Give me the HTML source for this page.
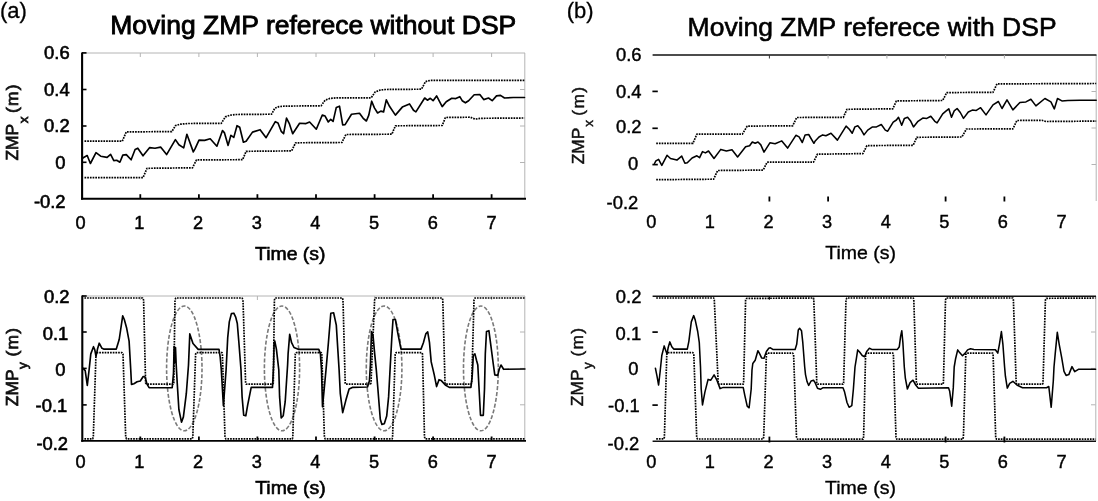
<!DOCTYPE html>
<html><head><meta charset="utf-8"><title>Moving ZMP reference</title>
<style>html,body{margin:0;padding:0;background:#fff}body{width:1098px;height:501px;overflow:hidden}</style>
</head><body>
<svg width="1098" height="501" viewBox="0 0 1098 501" style="display:block">
<defs><filter id="soft" x="0" y="0" width="100%" height="100%" filterUnits="userSpaceOnUse" color-interpolation-filters="sRGB"><feGaussianBlur stdDeviation="0.38"/></filter></defs>
<rect width="1098" height="501" fill="#fff"/>
<g filter="url(#soft)">
<g stroke="#b4b4b4" stroke-width="1" fill="none">
<line x1="82" y1="53" x2="525" y2="53"/><line x1="524.8" y1="53" x2="524.8" y2="199"/>
<line x1="140.3" y1="53" x2="140.3" y2="57"/>
<line x1="198.9" y1="53" x2="198.9" y2="57"/>
<line x1="257.4" y1="53" x2="257.4" y2="57"/>
<line x1="316.0" y1="53" x2="316.0" y2="57"/>
<line x1="374.6" y1="53" x2="374.6" y2="57"/>
<line x1="433.1" y1="53" x2="433.1" y2="57"/>
<line x1="491.6" y1="53" x2="491.6" y2="57"/>
<line x1="520" y1="89.5" x2="525" y2="89.5"/>
<line x1="520" y1="126" x2="525" y2="126"/>
<line x1="520" y1="162.5" x2="525" y2="162.5"/>
<line x1="82" y1="296" x2="525" y2="296"/><line x1="524.8" y1="296" x2="524.8" y2="441"/>
<line x1="140.3" y1="296" x2="140.3" y2="300"/>
<line x1="198.9" y1="296" x2="198.9" y2="300"/>
<line x1="257.4" y1="296" x2="257.4" y2="300"/>
<line x1="316.0" y1="296" x2="316.0" y2="300"/>
<line x1="374.6" y1="296" x2="374.6" y2="300"/>
<line x1="433.1" y1="296" x2="433.1" y2="300"/>
<line x1="491.6" y1="296" x2="491.6" y2="300"/>
<line x1="520" y1="332" x2="525" y2="332"/>
<line x1="520" y1="368.4" x2="525" y2="368.4"/>
<line x1="520" y1="404.8" x2="525" y2="404.8"/>
<line x1="1096.2" y1="55" x2="1096.2" y2="201"/>
<line x1="1091.5" y1="91.5" x2="1096" y2="91.5"/>
<line x1="1091.5" y1="128" x2="1096" y2="128"/>
<line x1="1091.5" y1="164.5" x2="1096" y2="164.5"/>
<line x1="1095.8" y1="296" x2="1095.8" y2="441"/>
<line x1="1091" y1="332" x2="1095.5" y2="332"/>
<line x1="1091" y1="368.4" x2="1095.5" y2="368.4"/>
<line x1="1091" y1="404.8" x2="1095.5" y2="404.8"/>
</g>
<g stroke="#000" fill="none">
<line x1="82.1" y1="52.5" x2="82.1" y2="199.6" stroke-width="2.1"/>
<line x1="81" y1="198.7" x2="526" y2="198.7" stroke-width="1.9"/>
<line x1="82.3" y1="295.5" x2="82.3" y2="441.8" stroke-width="2.1"/>
<line x1="81.2" y1="440.9" x2="526" y2="440.9" stroke-width="1.9"/>
<line x1="82" y1="52.9" x2="86.5" y2="52.9" stroke-width="1.6"/>
<line x1="82" y1="89.5" x2="86.5" y2="89.5" stroke-width="1.6"/>
<line x1="82" y1="126" x2="86.5" y2="126" stroke-width="1.6"/>
<line x1="82" y1="162.3" x2="86.5" y2="162.3" stroke-width="1.6"/>
<line x1="82" y1="296" x2="86.7" y2="296" stroke-width="1.6"/>
<line x1="82" y1="332" x2="86.7" y2="332" stroke-width="1.6"/>
<line x1="82" y1="368.4" x2="86.7" y2="368.4" stroke-width="1.6"/>
<line x1="82" y1="404.9" x2="86.7" y2="404.9" stroke-width="1.6"/>
<line x1="140.3" y1="194.2" x2="140.3" y2="199" stroke-width="1.8"/>
<line x1="140.3" y1="436.5" x2="140.3" y2="441" stroke-width="1.8"/>
<line x1="198.9" y1="194.2" x2="198.9" y2="199" stroke-width="1.8"/>
<line x1="198.9" y1="436.5" x2="198.9" y2="441" stroke-width="1.8"/>
<line x1="257.4" y1="194.2" x2="257.4" y2="199" stroke-width="1.8"/>
<line x1="257.4" y1="436.5" x2="257.4" y2="441" stroke-width="1.8"/>
<line x1="316.0" y1="194.2" x2="316.0" y2="199" stroke-width="1.8"/>
<line x1="316.0" y1="436.5" x2="316.0" y2="441" stroke-width="1.8"/>
<line x1="374.6" y1="194.2" x2="374.6" y2="199" stroke-width="1.8"/>
<line x1="374.6" y1="436.5" x2="374.6" y2="441" stroke-width="1.8"/>
<line x1="433.1" y1="194.2" x2="433.1" y2="199" stroke-width="1.8"/>
<line x1="433.1" y1="436.5" x2="433.1" y2="441" stroke-width="1.8"/>
<line x1="491.6" y1="194.2" x2="491.6" y2="199" stroke-width="1.8"/>
<line x1="491.6" y1="436.5" x2="491.6" y2="441" stroke-width="1.8"/>
</g>
<g stroke="#111" fill="none">
<line x1="652.6" y1="55.0" x2="1096.5" y2="55.0" stroke-width="1.4"/>
<line x1="652.6" y1="296.3" x2="1096" y2="296.3" stroke-width="1.4"/>
<line x1="652.6" y1="441.2" x2="1096" y2="441.2" stroke-width="1.6"/>
<line x1="652.4" y1="91.4" x2="657.8" y2="91.4" stroke-width="1.7" stroke="#000"/>
<line x1="652.4" y1="128.3" x2="657.8" y2="128.3" stroke-width="1.7" stroke="#000"/>
<line x1="652.4" y1="164.6" x2="657.8" y2="164.6" stroke-width="1.7" stroke="#000"/>
<line x1="652.4" y1="332.1" x2="657.8" y2="332.1" stroke-width="1.7" stroke="#000"/>
<line x1="652.4" y1="405.1" x2="657.8" y2="405.1" stroke-width="1.7" stroke="#000"/>
<line x1="769.4" y1="196.5" x2="769.4" y2="201.5" stroke-width="1.8" stroke="#000"/>
<line x1="828.1" y1="196.5" x2="828.1" y2="201.5" stroke-width="1.8" stroke="#000"/>
<line x1="945.6" y1="196.5" x2="945.6" y2="201.5" stroke-width="1.8" stroke="#000"/>
<line x1="1004.4" y1="196.5" x2="1004.4" y2="201.5" stroke-width="1.8" stroke="#000"/>
<line x1="769.4" y1="55" x2="769.4" y2="58.5" stroke-width="1" stroke="#333"/>
<line x1="828.1" y1="55" x2="828.1" y2="58.5" stroke-width="1" stroke="#aaa"/>
<line x1="886.9" y1="55" x2="886.9" y2="58.5" stroke-width="1" stroke="#aaa"/>
<line x1="945.6" y1="55" x2="945.6" y2="58.5" stroke-width="1" stroke="#aaa"/>
<line x1="1004.4" y1="55" x2="1004.4" y2="58.5" stroke-width="1" stroke="#aaa"/>
<line x1="769.4" y1="436.6" x2="769.4" y2="442.5" stroke-width="1.8" stroke="#000"/>
<line x1="945.6" y1="436.6" x2="945.6" y2="442.5" stroke-width="1.8" stroke="#000"/>
<line x1="1004.4" y1="436.6" x2="1004.4" y2="442.5" stroke-width="1.8" stroke="#000"/>
<line x1="769.4" y1="296" x2="769.4" y2="299.8" stroke-width="1.2"/>
</g>
<g fill="none" stroke="#7a7a7a" stroke-width="1.6" stroke-dasharray="4 1.9">
<ellipse cx="184.3" cy="368.4" rx="17.7" ry="62.4"/>
<ellipse cx="282.0" cy="368.4" rx="17.6" ry="62.4"/>
<ellipse cx="384.1" cy="368.4" rx="17.8" ry="62.4"/>
<ellipse cx="480.9" cy="368.4" rx="17.4" ry="62.4"/>
</g>
<polyline points="84.5,141.2 122.3,141.2 126.3,131.9 171.8,131.6 175.5,125.6 180.0,124.2 188.5,123.5 221.3,123.3 225.3,116.9 230.0,115.2 236.5,114.5 271.6,114.2 274.8,108.2 279.0,106.6 284.4,106.1 321.1,105.8 325.1,100.2 330.0,98.4 337.1,97.8 371.2,97.8 375.2,91.9 380.0,90.1 385.5,89.5 421.5,89.2 425.5,81.6 430.3,80.4 524.5,80.4" fill="none" stroke="#000" stroke-width="1.7" stroke-dasharray="1.7 1.0" stroke-linejoin="round"/>
<polyline points="84.5,177.7 143.0,177.7 147.0,168.3 192.5,167.8 196.5,159.9 242.6,159.7 246.1,151.3 291.6,150.9 295.6,142.8 341.9,142.5 345.9,134.5 391.9,134.2 395.4,125.8 442.2,125.5 445.4,117.5 470.2,117.2 475.0,119.1 481.3,118.3 524.5,118.0" fill="none" stroke="#000" stroke-width="1.7" stroke-dasharray="1.7 1.0" stroke-linejoin="round"/>
<polyline points="82.6,158.5 83.2,157.8 87.2,155.5 90.4,163.5 96.0,152.7 100.7,156.2 107.1,157.4 110.6,154.3 113.8,160.6 116.7,160.3 119.9,162.2 122.8,155.1 126.3,154.6 131.1,159.8 135.1,149.5 137.8,148.2 143.0,155.8 149.7,147.6 155.0,148.2 160.6,147.1 166.6,154.6 175.4,139.6 178.9,144.7 183.7,147.9 186.9,134.3 193.3,151.9 195.0,148.9 199.0,140.1 204.6,140.4 210.2,138.8 216.9,146.2 222.5,130.5 224.5,132.9 228.1,145.4 230.9,135.3 233.8,137.4 237.0,125.7 239.7,127.3 243.4,142.2 246.1,141.2 252.5,132.1 260.1,129.7 266.1,137.7 275.3,121.7 278.0,123.0 281.2,131.3 283.6,133.7 286.5,118.1 289.2,123.3 292.7,133.7 299.6,123.3 306.0,123.6 309.6,122.0 316.3,129.2 322.3,115.0 325.1,116.1 328.3,122.0 330.7,119.3 333.1,121.4 336.3,107.4 339.5,106.2 342.7,124.9 345.1,124.6 351.5,114.2 359.5,113.3 363.2,118.3 366.4,121.0 368.8,115.1 371.7,101.2 374.4,107.9 377.6,113.0 380.8,111.1 383.6,111.9 386.3,99.9 389.5,106.3 395.4,115.1 402.3,107.1 409.5,103.9 413.5,110.3 415.9,111.9 424.7,98.0 427.4,100.2 430.3,98.3 433.1,100.7 436.6,95.9 442.2,106.6 446.2,101.8 451.8,98.3 455.8,98.6 459.8,96.7 462.2,100.7 465.4,102.8 468.6,100.7 474.2,94.8 479.8,94.6 483.7,99.6 488.5,98.0 492.2,100.7 496.5,95.9 500.5,95.4 504.5,98.0 513.3,97.5 524.5,97.5" fill="none" stroke="#000" stroke-width="1.65" stroke-linejoin="round" stroke-linecap="round" />
<polyline points="656.2,143.3 692.9,143.3 696.9,134.1 742.4,134.1 747.2,126.1 792.7,125.8 796.7,117.5 843.4,117.3 846.9,109.3 892.8,108.8 896.4,100.9 942.7,100.5 946.7,92.6 993.0,92.3 997.0,83.9 1096.2,83.5" fill="none" stroke="#000" stroke-width="1.7" stroke-dasharray="1.7 1.0" stroke-linejoin="round"/>
<polyline points="656.2,179.7 713.7,179.2 717.6,170.5 763.2,170.1 767.1,162.2 813.5,162.2 817.4,154.2 862.9,153.6 866.9,145.6 913.2,145.3 916.7,137.3 961.9,137.0 966.4,129.0 1012.9,128.9 1016.9,120.5 1041.9,120.3 1045.9,121.5 1096.2,121.1" fill="none" stroke="#000" stroke-width="1.7" stroke-dasharray="1.7 1.0" stroke-linejoin="round"/>
<polyline points="654.5,163.5 655.9,160.9 658.6,159.3 661.8,165.4 667.0,155.3 670.5,158.5 676.9,160.1 681.7,156.1 684.9,163.3 687.3,162.8 692.1,158.0 696.9,155.8 699.6,157.7 702.5,151.6 705.4,152.9 708.5,151.0 714.0,158.5 720.8,149.4 726.4,151.0 732.0,149.7 737.6,156.9 745.6,146.8 749.6,145.7 752.3,142.0 755.2,143.3 758.0,142.0 760.8,144.9 764.0,152.1 769.9,142.8 775.1,143.8 781.8,140.9 787.6,148.1 795.9,135.3 799.1,136.9 802.3,142.5 805.1,134.9 808.7,134.5 813.9,143.3 815.0,141.3 819.0,137.0 822.7,134.9 825.9,135.7 831.0,133.3 837.4,140.1 846.1,126.1 849.3,129.3 852.2,133.3 854.9,126.9 857.8,125.8 861.3,130.1 864.0,134.9 867.7,130.1 872.5,126.9 876.5,126.9 881.3,124.5 885.3,130.1 887.7,131.2 893.2,122.1 896.4,120.0 898.5,117.3 901.7,125.3 904.4,118.4 907.6,117.3 910.8,121.3 913.5,126.9 918.0,121.3 922.8,118.1 926.8,118.4 930.8,116.2 934.8,121.3 937.1,122.9 942.7,113.8 946.2,110.9 948.8,108.8 951.5,117.3 954.2,110.9 957.1,108.5 960.3,112.5 963.5,118.4 968.3,112.0 972.3,110.1 976.3,110.4 980.6,107.7 986.0,114.9 993.0,104.9 998.4,101.5 1002.0,108.5 1007.0,99.9 1012.9,109.9 1019.9,102.5 1025.9,101.9 1030.9,99.3 1035.9,105.9 1044.9,98.5 1050.9,101.9 1054.3,108.9 1057.5,98.5 1061.9,100.9 1067.9,100.5 1079.8,100.3 1096.2,100.3" fill="none" stroke="#000" stroke-width="1.55" stroke-linejoin="round" stroke-linecap="round" />
<polyline points="84.4,298.0 142.7,298.0 143.6,300.0 145.6,383.0 146.7,384.2 173.0,384.2 173.8,383.0 175.0,300.0 175.8,298.0 242.1,298.0 243.0,300.0 245.6,383.0 246.3,384.2 272.5,384.2 273.3,383.0 274.4,300.0 275.2,298.0 342.4,298.0 343.0,300.0 345.2,383.0 345.8,384.2 370.4,384.2 371.0,383.0 374.6,300.0 375.5,298.0 442.1,298.0 442.8,300.0 445.0,383.0 445.6,384.2 470.9,384.2 471.7,383.0 474.0,300.0 475.0,298.0 524.9,298.0" fill="none" stroke="#000" stroke-width="1.7" stroke-dasharray="1.7 1.0" stroke-linejoin="round"/>
<polyline points="84.4,438.8 92.7,438.8 93.3,437.0 96.0,354.0 97.0,352.6 121.9,352.6 123.0,354.0 125.7,437.0 126.5,438.8 192.2,438.8 192.8,437.0 195.6,354.0 196.6,352.6 222.0,352.6 222.4,354.0 225.0,437.0 225.8,438.8 292.4,438.8 292.8,437.0 295.3,354.0 296.2,352.6 321.2,352.6 321.8,354.0 324.4,437.0 325.2,438.8 392.2,438.8 392.6,437.0 395.2,354.0 396.2,352.6 421.8,352.6 422.5,354.0 424.5,437.0 425.2,438.8 524.9,438.8" fill="none" stroke="#000" stroke-width="1.7" stroke-dasharray="1.7 1.0" stroke-linejoin="round"/>
<polyline points="82.8,368.2 85.2,370.6 87.3,385.4 89.2,369.0 90.8,353.9 93.5,346.7 94.8,349.9 96.0,356.3 97.5,349.1 99.2,343.2 102.0,348.3 103.6,349.1 116.3,349.1 119.2,339.5 122.7,315.9 124.3,319.5 126.7,328.3 129.1,341.1 130.7,369.0 131.5,384.5 133.9,383.8 137.1,381.8 140.3,381.0 143.2,376.5 145.1,377.0 147.0,384.2 149.1,387.7 172.2,387.7 173.5,373.0 174.1,346.5 174.9,362.5 175.5,347.6 176.2,365.0 177.3,384.2 178.9,409.7 181.5,422.2 183.4,416.9 186.3,393.7 188.5,365.0 189.8,333.9 193.0,343.5 198.2,349.4 219.0,349.4 220.2,357.1 221.3,369.8 223.4,405.7 226.1,369.8 227.7,337.9 229.3,321.9 231.4,313.6 233.8,313.2 235.7,317.1 237.3,323.5 238.9,342.7 241.0,369.8 242.1,396.9 243.7,415.3 245.8,415.8 247.7,404.9 251.2,387.4 272.5,387.4 273.6,365.0 274.1,342.7 274.8,341.1 276.4,349.1 278.8,369.8 279.6,396.9 281.2,418.0 283.2,415.8 285.2,401.7 287.6,365.0 288.1,353.9 289.7,334.4 291.6,342.7 294.0,347.5 298.8,349.4 318.8,349.4 320.4,353.9 321.5,369.8 322.5,406.8 326.0,369.8 328.4,342.7 330.8,313.2 333.6,312.8 336.3,325.1 337.9,350.7 339.1,369.8 340.3,393.7 342.7,412.6 345.9,400.1 349.1,389.0 352.3,387.4 367.5,387.0 369.4,381.0 370.4,365.0 371.5,331.5 373.1,336.3 374.7,353.9 376.3,369.8 377.9,389.0 380.3,419.3 381.9,424.4 384.3,423.8 386.7,416.1 388.6,396.9 390.3,365.0 391.8,337.9 393.0,319.5 395.4,319.5 397.8,333.1 401.0,349.1 421.0,349.1 423.4,342.7 425.8,333.9 427.7,331.8 429.5,342.7 431.2,361.9 434.2,374.6 436.6,386.6 439.0,379.7 441.3,380.6 445.3,385.0 449.3,387.4 470.9,387.4 472.2,376.2 473.3,355.5 474.9,353.9 476.5,360.3 477.8,365.0 478.9,385.8 480.5,415.3 483.3,415.3 484.5,389.0 485.3,353.9 486.5,331.5 488.9,330.7 490.9,345.9 493.2,363.5 494.8,374.9 497.7,375.4 499.3,369.0 501.0,365.0 503.6,369.3 524.9,369.0" fill="none" stroke="#000" stroke-width="1.65" stroke-linejoin="round" stroke-linecap="round" />
<polyline points="656.2,298.0 713.7,298.0 714.3,300.0 718.2,383.0 718.9,384.2 743.2,384.2 743.6,383.0 745.6,300.0 746.6,298.4 813.5,298.0 813.8,300.0 816.8,383.0 817.4,384.2 843.0,384.2 843.6,383.0 846.0,300.0 846.8,298.0 913.3,298.0 913.8,300.0 916.4,383.0 917.0,384.2 942.9,384.2 943.4,383.0 945.5,300.0 946.2,298.0 1012.9,298.0 1013.4,300.0 1016.2,383.0 1016.8,384.2 1042.5,384.2 1043.0,383.0 1045.4,300.0 1046.4,298.3 1095.6,298.0" fill="none" stroke="#000" stroke-width="1.7" stroke-dasharray="1.7 1.0" stroke-linejoin="round"/>
<polyline points="656.2,438.8 664.0,438.8 664.4,437.0 666.8,354.0 667.6,352.6 692.9,352.6 693.8,354.0 696.7,437.0 697.4,439.0 763.2,439.0 763.7,437.0 766.4,354.5 767.2,353.1 792.7,353.1 793.6,354.5 796.5,437.0 797.5,439.2 863.0,439.2 863.6,437.0 865.6,354.5 866.4,353.1 892.9,353.1 893.4,354.5 896.0,437.0 896.8,439.2 962.8,439.2 963.4,437.0 965.8,354.5 966.8,353.1 992.7,353.1 993.1,354.5 995.7,437.0 996.5,439.2 1095.6,439.2" fill="none" stroke="#000" stroke-width="1.7" stroke-dasharray="1.7 1.0" stroke-linejoin="round"/>
<polyline points="655.4,368.2 657.0,376.2 658.6,385.0 660.2,371.0 661.8,355.5 664.2,345.9 665.8,350.7 667.0,353.9 668.2,347.5 669.8,341.9 671.8,346.7 673.7,349.1 687.3,349.1 688.9,341.1 691.3,321.9 693.7,315.6 695.3,320.3 697.7,331.5 699.3,342.7 700.5,367.0 701.2,389.0 702.5,404.9 704.9,392.1 708.1,379.4 710.8,380.2 714.1,374.9 716.9,380.2 720.1,388.6 723.2,387.4 743.2,387.4 744.8,395.3 747.2,406.2 749.1,407.8 751.2,389.0 752.0,369.8 752.8,363.5 755.2,360.3 757.9,350.7 759.7,353.9 761.6,357.9 764.0,358.3 766.4,351.5 768.8,348.3 770.4,347.8 772.8,349.4 795.1,349.4 796.7,344.3 798.3,329.9 799.6,328.3 801.5,330.7 802.8,342.7 804.7,367.0 805.5,374.6 807.1,381.8 808.7,385.4 811.1,381.0 813.5,380.2 815.1,382.6 817.5,388.2 820.4,389.3 823.1,387.7 843.0,387.7 844.6,392.1 847.0,402.5 849.1,407.3 851.8,405.7 853.4,389.0 855.0,367.0 856.6,357.1 857.7,349.9 859.8,352.3 862.2,355.5 864.6,356.8 866.7,351.5 869.4,348.3 871.8,349.4 897.4,349.4 899.3,346.7 900.6,336.3 901.8,330.7 902.9,342.7 904.3,367.0 905.3,377.8 907.4,389.0 910.1,382.6 913.0,380.2 915.7,385.0 918.4,388.2 948.5,387.7 949.7,391.3 951.7,406.2 953.3,387.4 954.2,367.0 955.6,358.7 957.7,349.9 959.6,352.6 962.5,355.8 965.2,353.1 967.6,349.9 970.5,348.8 974.0,349.4 995.4,349.7 997.8,353.1 999.4,344.3 1001.4,331.5 1002.9,344.3 1004.6,367.0 1005.4,376.2 1007.3,388.1 1009.7,383.4 1012.9,381.3 1016.9,385.0 1022.5,387.7 1046.5,387.7 1048.8,386.5 1051.2,407.3 1053.3,381.0 1054.0,367.0 1055.2,353.9 1057.3,332.3 1059.2,344.3 1061.6,357.1 1064.0,371.4 1066.1,375.4 1068.8,374.6 1072.0,366.6 1074.7,371.7 1078.4,369.3 1095.6,369.3" fill="none" stroke="#000" stroke-width="1.55" stroke-linejoin="round" stroke-linecap="round" />
<g font-family="Liberation Sans, Arial, Helvetica, sans-serif">
<text x="0" y="17.9" font-size="22" text-anchor="start" fill="#000" stroke="#000" stroke-width="0.3" >(a)</text>
<text x="566.8" y="17.8" font-size="22" text-anchor="start" fill="#000" stroke="#000" stroke-width="0.3" >(b)</text>
<text x="110.3" y="34.4" font-size="25.8" text-anchor="start" fill="#000" stroke="#000" stroke-width="0.85" textLength="406" lengthAdjust="spacingAndGlyphs">Moving ZMP referece without DSP</text>
<text x="687.6" y="35.8" font-size="25.8" text-anchor="start" fill="#000" stroke="#000" stroke-width="0.6" textLength="369" lengthAdjust="spacingAndGlyphs">Moving ZMP referece with DSP</text>
<text x="69.7" y="59.0" font-size="18.4" text-anchor="end" fill="#000" stroke="#000" stroke-width="0.6" >0.6</text>
<text x="69.7" y="96.3" font-size="18.4" text-anchor="end" fill="#000" stroke="#000" stroke-width="0.6" >0.4</text>
<text x="69.7" y="132.4" font-size="18.4" text-anchor="end" fill="#000" stroke="#000" stroke-width="0.6" >0.2</text>
<text x="65.6" y="169.3" font-size="18.4" text-anchor="end" fill="#000" stroke="#000" stroke-width="0.6" >0</text>
<text x="65.6" y="208.3" font-size="18.4" text-anchor="end" fill="#000" stroke="#000" stroke-width="0.6" >-0.2</text>
<text x="69.6" y="302.5" font-size="18.4" text-anchor="end" fill="#000" stroke="#000" stroke-width="0.6" >0.2</text>
<text x="68.3" y="339.6" font-size="18.4" text-anchor="end" fill="#000" stroke="#000" stroke-width="0.6" >0.1</text>
<text x="65.5" y="375.7" font-size="18.4" text-anchor="end" fill="#000" stroke="#000" stroke-width="0.6" >0</text>
<text x="67.3" y="411.9" font-size="18.4" text-anchor="end" fill="#000" stroke="#000" stroke-width="0.6" >-0.1</text>
<text x="68.1" y="449.7" font-size="18.4" text-anchor="end" fill="#000" stroke="#000" stroke-width="0.6" >-0.2</text>
<text x="80.6" y="229.3" font-size="18.2" text-anchor="middle" fill="#000" stroke="#000" stroke-width="0.48" >0</text>
<text x="80.6" y="467.6" font-size="18.2" text-anchor="middle" fill="#000" stroke="#000" stroke-width="0.48" >0</text>
<text x="139.3" y="229.3" font-size="18.2" text-anchor="middle" fill="#000" stroke="#000" stroke-width="0.48" >1</text>
<text x="139.3" y="467.6" font-size="18.2" text-anchor="middle" fill="#000" stroke="#000" stroke-width="0.48" >1</text>
<text x="198.0" y="229.3" font-size="18.2" text-anchor="middle" fill="#000" stroke="#000" stroke-width="0.48" >2</text>
<text x="198.0" y="467.6" font-size="18.2" text-anchor="middle" fill="#000" stroke="#000" stroke-width="0.48" >2</text>
<text x="256.7" y="229.3" font-size="18.2" text-anchor="middle" fill="#000" stroke="#000" stroke-width="0.48" >3</text>
<text x="256.7" y="467.6" font-size="18.2" text-anchor="middle" fill="#000" stroke="#000" stroke-width="0.48" >3</text>
<text x="315.4" y="229.3" font-size="18.2" text-anchor="middle" fill="#000" stroke="#000" stroke-width="0.48" >4</text>
<text x="315.4" y="467.6" font-size="18.2" text-anchor="middle" fill="#000" stroke="#000" stroke-width="0.48" >4</text>
<text x="374.1" y="229.3" font-size="18.2" text-anchor="middle" fill="#000" stroke="#000" stroke-width="0.48" >5</text>
<text x="374.1" y="467.6" font-size="18.2" text-anchor="middle" fill="#000" stroke="#000" stroke-width="0.48" >5</text>
<text x="432.8" y="229.3" font-size="18.2" text-anchor="middle" fill="#000" stroke="#000" stroke-width="0.48" >6</text>
<text x="432.8" y="467.6" font-size="18.2" text-anchor="middle" fill="#000" stroke="#000" stroke-width="0.48" >6</text>
<text x="491.5" y="229.3" font-size="18.2" text-anchor="middle" fill="#000" stroke="#000" stroke-width="0.48" >7</text>
<text x="491.5" y="467.6" font-size="18.2" text-anchor="middle" fill="#000" stroke="#000" stroke-width="0.48" >7</text>
<text x="255" y="260.0" font-size="18.6" text-anchor="start" fill="#000" stroke="#000" stroke-width="0.6" textLength="70.5" lengthAdjust="spacingAndGlyphs">Time (s)</text>
<text x="255.2" y="493.6" font-size="18.6" text-anchor="start" fill="#000" stroke="#000" stroke-width="0.6" textLength="70.5" lengthAdjust="spacingAndGlyphs">Time (s)</text>
<text x="641.6" y="60.6" font-size="18.4" text-anchor="end" fill="#000" stroke="#000" stroke-width="0.42" >0.6</text>
<text x="641.6" y="98.3" font-size="18.4" text-anchor="end" fill="#000" stroke="#000" stroke-width="0.42" >0.4</text>
<text x="641.6" y="132.7" font-size="18.4" text-anchor="end" fill="#000" stroke="#000" stroke-width="0.42" >0.2</text>
<text x="638.3" y="170.3" font-size="18.4" text-anchor="end" fill="#000" stroke="#000" stroke-width="0.42" >0</text>
<text x="638.3" y="209.0" font-size="18.4" text-anchor="end" fill="#000" stroke="#000" stroke-width="0.42" >-0.2</text>
<text x="641.4" y="302.8" font-size="18.4" text-anchor="end" fill="#000" stroke="#000" stroke-width="0.42" >0.2</text>
<text x="641.2" y="339.9" font-size="18.4" text-anchor="end" fill="#000" stroke="#000" stroke-width="0.42" >0.1</text>
<text x="638.5" y="375.0" font-size="18.4" text-anchor="end" fill="#000" stroke="#000" stroke-width="0.42" >0</text>
<text x="639.8" y="412.4" font-size="18.4" text-anchor="end" fill="#000" stroke="#000" stroke-width="0.42" >-0.1</text>
<text x="639.3" y="449.8" font-size="18.4" text-anchor="end" fill="#000" stroke="#000" stroke-width="0.42" >-0.2</text>
<text x="651.3" y="228.4" font-size="18.2" text-anchor="middle" fill="#000" stroke="#000" stroke-width="0.42" >0</text>
<text x="651.3" y="467.5" font-size="18.2" text-anchor="middle" fill="#000" stroke="#000" stroke-width="0.42" >0</text>
<text x="709.9" y="228.4" font-size="18.2" text-anchor="middle" fill="#000" stroke="#000" stroke-width="0.42" >1</text>
<text x="709.9" y="467.5" font-size="18.2" text-anchor="middle" fill="#000" stroke="#000" stroke-width="0.42" >1</text>
<text x="768.5" y="228.4" font-size="18.2" text-anchor="middle" fill="#000" stroke="#000" stroke-width="0.42" >2</text>
<text x="768.5" y="467.5" font-size="18.2" text-anchor="middle" fill="#000" stroke="#000" stroke-width="0.42" >2</text>
<text x="827.1" y="228.4" font-size="18.2" text-anchor="middle" fill="#000" stroke="#000" stroke-width="0.42" >3</text>
<text x="827.1" y="467.5" font-size="18.2" text-anchor="middle" fill="#000" stroke="#000" stroke-width="0.42" >3</text>
<text x="885.7" y="228.4" font-size="18.2" text-anchor="middle" fill="#000" stroke="#000" stroke-width="0.42" >4</text>
<text x="885.7" y="467.5" font-size="18.2" text-anchor="middle" fill="#000" stroke="#000" stroke-width="0.42" >4</text>
<text x="944.3" y="228.4" font-size="18.2" text-anchor="middle" fill="#000" stroke="#000" stroke-width="0.42" >5</text>
<text x="944.3" y="467.5" font-size="18.2" text-anchor="middle" fill="#000" stroke="#000" stroke-width="0.42" >5</text>
<text x="1002.9" y="228.4" font-size="18.2" text-anchor="middle" fill="#000" stroke="#000" stroke-width="0.42" >6</text>
<text x="1002.9" y="467.5" font-size="18.2" text-anchor="middle" fill="#000" stroke="#000" stroke-width="0.42" >6</text>
<text x="1061.5" y="228.4" font-size="18.2" text-anchor="middle" fill="#000" stroke="#000" stroke-width="0.42" >7</text>
<text x="1061.5" y="467.5" font-size="18.2" text-anchor="middle" fill="#000" stroke="#000" stroke-width="0.42" >7</text>
<text x="825.2" y="259.2" font-size="18.6" text-anchor="start" fill="#000" stroke="#000" stroke-width="0.35" textLength="70.8" lengthAdjust="spacingAndGlyphs">Time (s)</text>
<text x="825.1" y="494.1" font-size="18.6" text-anchor="start" fill="#000" stroke="#000" stroke-width="0.35" textLength="70.8" lengthAdjust="spacingAndGlyphs">Time (s)</text>
<g transform="translate(18.3,160.6) rotate(-90)" stroke="#111" stroke-width="0.75" fill="#111">
<text x="0" y="0" font-size="17.4">ZMP</text>
<text x="37.4" y="9.6" font-size="13.5">x</text>
<text x="47.5" y="0" font-size="17.4" letter-spacing="1.3">(m)</text>
</g>
<g transform="translate(583.8,164.3) rotate(-90)" stroke="#111" stroke-width="0.45" fill="#111">
<text x="0" y="0" font-size="17.4">ZMP</text>
<text x="37.6" y="9.4" font-size="13.5">x</text>
<text x="48.6" y="0" font-size="17.4" letter-spacing="1.3">(m)</text>
</g>
<g transform="translate(18.0,406.2) rotate(-90)" stroke="#111" stroke-width="0.75" fill="#111">
<text x="0" y="0" font-size="17.4">ZMP</text>
<text x="37.2" y="9.2" font-size="13.5">y</text>
<text x="49.6" y="0" font-size="17.4" letter-spacing="1.3">(m)</text>
</g>
<g transform="translate(583.0,406.2) rotate(-90)" stroke="#111" stroke-width="0.45" fill="#111">
<text x="0" y="0" font-size="17.4">ZMP</text>
<text x="37.2" y="9.0" font-size="13.5">y</text>
<text x="49.6" y="0" font-size="17.4" letter-spacing="1.3">(m)</text>
</g>
</g>
</g>
</svg>
</body></html>
